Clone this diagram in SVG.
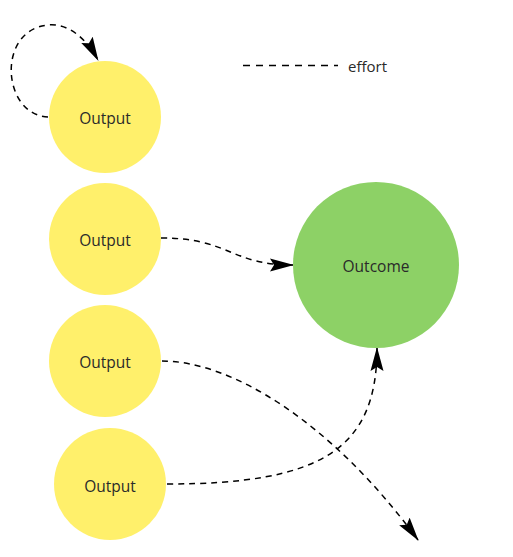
<svg xmlns="http://www.w3.org/2000/svg" width="513" height="557" viewBox="0 0 513 557">
<defs>
<style>
.out{fill:#fff06b;}
.oc{fill:#8dd166;}
.lbl{font-family:"Open Sans","Noto Sans",sans-serif;font-size:15.5px;fill:#2a2a2a;text-anchor:middle;dominant-baseline:central;}
.e{fill:none;stroke:#000;stroke-width:1.5;stroke-dasharray:6 5;}
</style>
<marker id="ah" viewBox="0 0 24 14" refX="23" refY="7" markerWidth="24" markerHeight="14" markerUnits="userSpaceOnUse" orient="auto">
<path d="M0,0.5 L24,7 L0,13.5 L4,7 Z" fill="#000"/>
</marker>
</defs>
<rect width="513" height="557" fill="#fff"/>
<g id="connectors">
<path class="e" d="M48,117 C2,115 -4,30 48,25 C68,23 86,38 98,60" marker-end="url(#ah)"/>
<path class="e" d="M161,238 C230,238 230,265 293,265" marker-end="url(#ah)"/>
<path class="e" d="M162,361 C230,361 330,420 418,540" marker-end="url(#ah)"/>
<path class="e" d="M167,484 C320,484 377,450 377,348" marker-end="url(#ah)"/>
</g>
<g id="legend">
<line class="e" x1="243" y1="65.5" x2="338" y2="65.5" style="stroke-dasharray:7 6"/>
<text x="348" y="72" style="font-family:'Open Sans','Noto Sans',sans-serif;font-size:15px;fill:#2a2a2a">effort</text>
</g>
<g id="output1"><circle class="out" cx="105" cy="117" r="56"/><text class="lbl" x="105" y="118">Output</text></g>
<g id="output2"><circle class="out" cx="105" cy="239" r="56"/><text class="lbl" x="105" y="240">Output</text></g>
<g id="output3"><circle class="out" cx="105" cy="361" r="56"/><text class="lbl" x="105" y="362">Output</text></g>
<g id="output4"><circle class="out" cx="110" cy="484" r="56"/><text class="lbl" x="110" y="486">Output</text></g>
<g id="outcome"><circle class="oc" cx="376" cy="265" r="83"/><text class="lbl" x="376" y="266">Outcome</text></g>
</svg>
